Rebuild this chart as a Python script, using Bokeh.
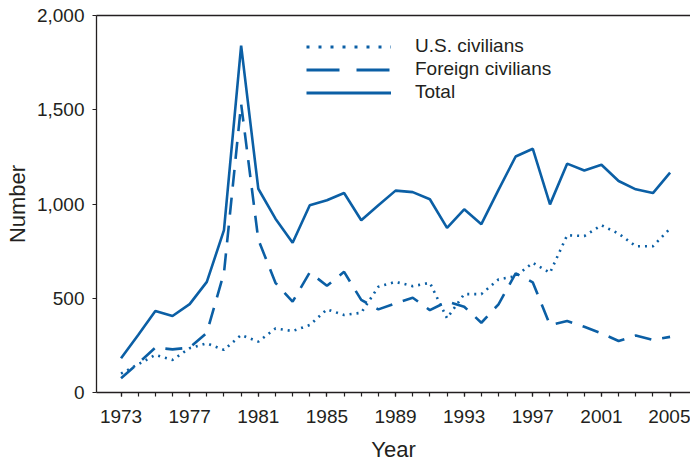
from bokeh.plotting import figure
from bokeh.models import (Range1d, FixedTicker, NumeralTickFormatter, LinearAxis,
                          Legend, LegendItem)
from bokeh.embed import file_html
from bokeh.resources import INLINE

years = list(range(1973, 2006))
us_civilians = [100, 150, 199, 173, 235, 261, 226, 305, 270, 340, 326, 358, 441, 411,
                423, 561, 587, 564, 582, 394, 522, 522, 600, 617, 688, 635, 834, 830,
                887, 843, 776, 776, 870]
foreign_civilians = [76, 155, 238, 229, 238, 317, 635, 1531, 811, 582, 482, 637, 566, 640,
                     491, 441, 473, 503, 437, 482, 455, 370, 468, 632, 584, 358, 379, 349,
                     314, 273, 302, 279, 295]
total = [182, 305, 432, 406, 469, 587, 861, 1840, 1081, 922, 794, 993, 1020, 1058,
         914, 993, 1071, 1063, 1025, 873, 972, 893, 1075, 1252, 1293, 998, 1214, 1178,
         1208, 1122, 1078, 1058, 1166]
x_tick_years = list(range(1973, 2006, 4))
y_ticks = [0, 500, 1000, 1500, 2000]
labels = ["U.S. civilians", "Foreign civilians", "Total"]

BLUE = "#0b5fa5"
INK = "#231f20"
FONT = "Liberation Sans"
NAN = float("nan")

p = figure(width=690, height=464, output_backend="svg", toolbar_location=None,
           x_range=Range1d(1971.57, 2006.19), y_range=Range1d(0, 2000),
           min_border_left=96, min_border_right=0, min_border_top=15, min_border_bottom=72)
p.xgrid.visible = False
p.ygrid.visible = False
p.outline_line_color = None
p.background_fill_color = "white"

r_us = p.line(years, us_civilians, line_color=BLUE, line_width=2.6, line_dash="2 5")
r_fo = p.line(years, foreign_civilians, line_color=BLUE, line_width=2.6, line_dash="17 11")
r_to = p.line(years, total, line_color=BLUE, line_width=2.6)

# legend-only proxies (the key uses longer dash patterns than the plotted lines)
l_us = p.line([NAN], [NAN], line_color=BLUE, line_width=2.8, line_dash="3 9")
l_fo = p.line([NAN], [NAN], line_color=BLUE, line_width=2.8, line_dash="33 17")
l_to = p.line([NAN], [NAN], line_color=BLUE, line_width=2.8)

legend = Legend(items=[LegendItem(label=labels[0], renderers=[l_us]),
                       LegendItem(label=labels[1], renderers=[l_fo]),
                       LegendItem(label=labels[2], renderers=[l_to])],
                location=(210, 289), orientation="vertical",
                glyph_width=85, glyph_height=21, label_height=21, spacing=1,
                label_standoff=24, padding=0, margin=0,
                border_line_color=None, background_fill_alpha=0,
                label_text_font=FONT, label_text_font_size="19px",
                label_text_color=INK)
p.add_layout(legend, "center")

for ax in (p.xaxis[0], p.yaxis[0]):
    ax.axis_line_color = INK
    ax.axis_line_width = 1.3
    ax.major_tick_line_color = INK
    ax.minor_tick_line_color = INK
    ax.major_tick_line_width = 1.2
    ax.minor_tick_line_width = 1.2
    ax.major_tick_in = 0
    ax.major_tick_out = 4
    ax.minor_tick_in = 0
    ax.minor_tick_out = 4
    ax.major_label_text_font = FONT
    ax.major_label_text_font_size = "19px"
    ax.major_label_text_color = INK
    ax.axis_label_text_font = FONT
    ax.axis_label_text_font_size = "22px"
    ax.axis_label_text_font_style = "normal"
    ax.axis_label_text_color = INK

p.xaxis[0].ticker = FixedTicker(ticks=x_tick_years, minor_ticks=years)
p.xaxis[0].axis_label = "Year"
p.xaxis[0].major_label_standoff = 13
p.xaxis[0].axis_label_standoff = 11

p.yaxis[0].ticker = FixedTicker(ticks=y_ticks, minor_ticks=[])
p.yaxis[0].formatter = NumeralTickFormatter(format="0,0")
p.yaxis[0].axis_label = "Number"
p.yaxis[0].major_label_standoff = 8
p.yaxis[0].axis_label_standoff = 4

top_axis = LinearAxis(ticker=FixedTicker(ticks=[]), axis_line_color=INK,
                      axis_line_width=1.6, major_tick_line_color=None,
                      minor_tick_line_color=None, major_label_text_font_size="0px")
p.add_layout(top_axis, "above")

open("out.html", "w").write(file_html(p, INLINE))
